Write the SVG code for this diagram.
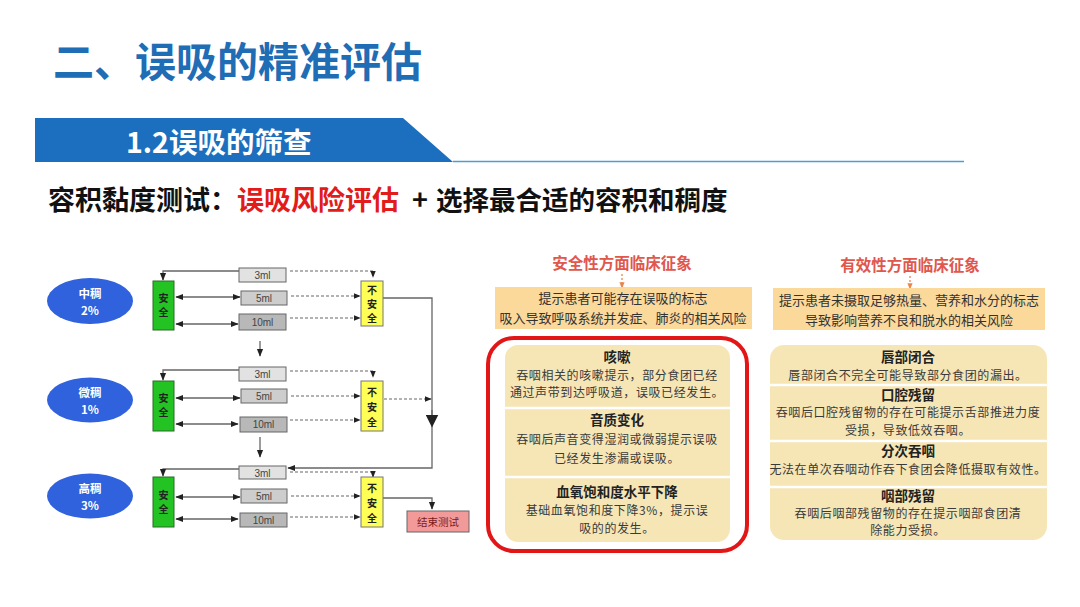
<svg xmlns="http://www.w3.org/2000/svg" width="1080" height="607" viewBox="0 0 1080 607">
<style>
text{font-family:"Noto Sans CJK SC","Noto Sans",sans-serif;}
.ml{fill:#444;font-size:10px;text-anchor:middle;font-family:"Liberation Sans","Noto Sans CJK SC",sans-serif;}
.b3{fill:#e2e2e2;stroke:#666;stroke-width:1;}
.b5{fill:#cdcdcd;stroke:#666;stroke-width:1;}
.b10{fill:#b8b8b8;stroke:#666;stroke-width:1;}
.safe{fill:#22c322;stroke:#2a6a2a;stroke-width:1;}
.unsafe{fill:#ffff55;stroke:#777;stroke-width:1;}
.vt{font-size:10px;font-weight:bold;text-anchor:middle;fill:#222;}
.ell{fill:#2f62dc;}
.et{fill:#fff;font-size:11.5px;font-weight:bold;text-anchor:middle;}
.sl{fill:none;stroke:#666;stroke-width:1.3;}
.dl{fill:none;stroke:#666;stroke-width:1.2;stroke-dasharray:3 2;}
.ttl{fill:#e0574c;font-size:15.5px;font-weight:bold;text-anchor:middle;}
.up{fill:#fbd99b;}
.upt{fill:#333;font-size:13px;text-anchor:middle;}
.low{fill:#f6e6b6;}
.lh{fill:#222;font-size:13.5px;font-weight:bold;text-anchor:middle;}
.lt{fill:#3a3a3a;font-size:12px;letter-spacing:0.6px;text-anchor:middle;}
</style>
<defs>
<marker id="ah" viewBox="0 0 10 10" refX="9" refY="5" markerWidth="6" markerHeight="6" orient="auto-start-reverse"><path d="M0,1 L10,5 L0,9 z" fill="#222"/></marker>
<marker id="ahb" viewBox="0 0 10 10" refX="5" refY="5" markerWidth="10" markerHeight="10" orient="auto"><path d="M0,0 L10,5 L0,10 z" fill="#222"/></marker>
<marker id="aho" viewBox="0 0 10 10" refX="9" refY="5" markerWidth="5" markerHeight="5" orient="auto"><path d="M0,1 L10,5 L0,9 z" fill="#e8874a"/></marker>
</defs>
<rect width="1080" height="607" fill="#fff"/>

<g id="header">
<text x="53" y="77" font-size="41" font-weight="bold" fill="#1e6db5">二、误吸的精准评估</text>
<polygon points="35,118 403,118 453,162 35,162" fill="#1b6fbe"/>
<line x1="453" y1="161.5" x2="964" y2="161.5" stroke="#4a9fd0" stroke-width="1.5"/>
<text x="126" y="153" font-size="28.5" font-weight="bold" fill="#fff">1.2误吸的筛查</text>
<text y="210" font-size="27" font-weight="bold" fill="#111"><tspan x="48">容积黏度测试：</tspan><tspan x="237" fill="#e21b1b">误吸风险评估</tspan><tspan x="412">+</tspan><tspan x="436" font-size="26.5">选择最合适的容积和稠度</tspan></text>
</g>

<g id="connectors">
<!-- group 1 -->
<path class="sl" d="M239,271 H163 V280" marker-end="url(#ah)"/>
<line class="sl" x1="176" y1="297" x2="240" y2="297" marker-start="url(#ah)" marker-end="url(#ah)"/>
<line class="sl" x1="176" y1="324" x2="238" y2="324" marker-start="url(#ah)" marker-end="url(#ah)"/>
<path class="dl" d="M290,271 H373 V277" marker-end="url(#ah)"/>
<line class="dl" x1="291" y1="296" x2="360" y2="296" marker-end="url(#ah)"/>
<line class="dl" x1="290" y1="318" x2="360" y2="318" marker-end="url(#ah)"/>
<line class="sl" x1="260" y1="341" x2="260" y2="356" marker-end="url(#ah)"/>
<path class="sl" d="M383,298 H432 V468 H288" marker-end="url(#ah)"/>
<line class="sl" x1="432" y1="410" x2="432" y2="421" marker-end="url(#ahb)"/>
<!-- group 2 -->
<path class="sl" d="M239,370 H163 V380" marker-end="url(#ah)"/>
<line class="sl" x1="176" y1="398" x2="240" y2="398" marker-start="url(#ah)" marker-end="url(#ah)"/>
<line class="sl" x1="176" y1="424" x2="238" y2="424" marker-start="url(#ah)" marker-end="url(#ah)"/>
<path class="dl" d="M290,371 H373 V377" marker-end="url(#ah)"/>
<line class="dl" x1="291" y1="396" x2="360" y2="396" marker-end="url(#ah)"/>
<line class="dl" x1="290" y1="420" x2="360" y2="420" marker-end="url(#ah)"/>
<line class="dl" x1="384" y1="399" x2="431" y2="399" marker-end="url(#ah)"/>
<line class="sl" x1="260" y1="437" x2="260" y2="457" marker-end="url(#ah)"/>
<!-- group 3 -->
<path class="sl" d="M239,469 H163 V476" marker-end="url(#ah)"/>
<line class="sl" x1="176" y1="497" x2="240" y2="497" marker-start="url(#ah)" marker-end="url(#ah)"/>
<line class="sl" x1="176" y1="519" x2="238" y2="519" marker-start="url(#ah)" marker-end="url(#ah)"/>
<path class="dl" d="M290,472 H373 V477" marker-end="url(#ah)"/>
<line class="dl" x1="291" y1="496" x2="360" y2="496" marker-end="url(#ah)"/>
<line class="dl" x1="290" y1="517" x2="360" y2="517" marker-end="url(#ah)"/>
<path class="sl" d="M383,498 H432 V509" marker-end="url(#ah)"/>
<!-- right panels -->
<line x1="622" y1="274" x2="622" y2="288" stroke="#e8874a" stroke-width="1.3" stroke-dasharray="2 2" marker-end="url(#aho)"/>
<line x1="910" y1="276" x2="910" y2="289" stroke="#e8874a" stroke-width="1.3" stroke-dasharray="2 2" marker-end="url(#aho)"/>
</g>

<g id="ell1"><ellipse class="ell" cx="90" cy="301" rx="43" ry="23"/><text class="et" x="90" y="298">中稠</text><text class="et" x="90" y="315">2%</text></g>
<g id="ell2"><ellipse class="ell" cx="90" cy="400" rx="43" ry="22.5"/><text class="et" x="90" y="397">微稠</text><text class="et" x="90" y="414">1%</text></g>
<g id="ell3"><ellipse class="ell" cx="90" cy="496" rx="43" ry="22.5"/><text class="et" x="90" y="493">高稠</text><text class="et" x="90" y="510">3%</text></g>

<g id="safe1"><rect class="safe" x="153" y="281" width="21" height="49"/><text class="vt" x="163.5" y="302">安</text><text class="vt" x="163.5" y="316">全</text></g>
<g id="safe2"><rect class="safe" x="153" y="381" width="21" height="50"/><text class="vt" x="163.5" y="402">安</text><text class="vt" x="163.5" y="416">全</text></g>
<g id="safe3"><rect class="safe" x="153" y="477" width="21" height="50"/><text class="vt" x="163.5" y="499">安</text><text class="vt" x="163.5" y="513">全</text></g>

<g id="g1-3ml"><rect class="b3" x="239" y="268" width="47" height="14"/><text class="ml" x="262.5" y="279">3ml</text></g>
<g id="g1-5ml"><rect class="b5" x="241" y="291" width="46" height="14"/><text class="ml" x="264" y="302">5ml</text></g>
<g id="g1-10ml"><rect class="b10" x="239" y="314" width="47" height="16"/><text class="ml" x="262.5" y="326">10ml</text></g>
<g id="g2-3ml"><rect class="b3" x="239" y="367" width="47" height="14"/><text class="ml" x="262.5" y="378">3ml</text></g>
<g id="g2-5ml"><rect class="b5" x="241" y="389" width="46" height="14"/><text class="ml" x="264" y="400">5ml</text></g>
<g id="g2-10ml"><rect class="b10" x="240" y="417" width="47" height="15"/><text class="ml" x="263.5" y="428">10ml</text></g>
<g id="g3-3ml"><rect class="b3" x="239" y="466" width="47" height="13"/><text class="ml" x="262.5" y="476.5">3ml</text></g>
<g id="g3-5ml"><rect class="b5" x="241" y="489" width="46" height="14"/><text class="ml" x="264" y="500">5ml</text></g>
<g id="g3-10ml"><rect class="b10" x="240" y="513" width="47" height="14"/><text class="ml" x="263.5" y="524">10ml</text></g>

<g id="unsafe1"><rect class="unsafe" x="361" y="281" width="22" height="45"/><text class="vt" x="372" y="294">不</text><text class="vt" x="372" y="308">安</text><text class="vt" x="372" y="322">全</text></g>
<g id="unsafe2"><rect class="unsafe" x="361" y="381" width="22" height="50"/><text class="vt" x="372" y="396">不</text><text class="vt" x="372" y="411">安</text><text class="vt" x="372" y="426">全</text></g>
<g id="unsafe3"><rect class="unsafe" x="361" y="477" width="22" height="50"/><text class="vt" x="372" y="492">不</text><text class="vt" x="372" y="507">安</text><text class="vt" x="372" y="522">全</text></g>

<g id="end"><rect x="407" y="511" width="62" height="21" fill="#f29a9a" stroke="#666" stroke-width="1"/><text x="438" y="525.5" font-size="10.5" text-anchor="middle" fill="#7a1a1a">结束测试</text></g>

<g id="safety-title"><text class="ttl" x="622" y="269">安全性方面临床征象</text></g>
<g id="safety-box"><rect class="up" x="495" y="287" width="257" height="42"/><text class="upt" x="623" y="303">提示患者可能存在误吸的标志</text><text class="upt" x="623" y="323">吸入导致呼吸系统并发症、肺炎的相关风险</text></g>
<g id="effect-title"><text class="ttl" x="910" y="271">有效性方面临床征象</text></g>
<g id="effect-box"><rect class="up" x="773" y="288" width="272" height="42"/><text class="upt" x="909" y="304.5">提示患者未摄取足够热量、营养和水分的标志</text><text class="upt" x="909" y="324.5">导致影响营养不良和脱水的相关风险</text></g>

<g id="safety-signs">
<rect x="488" y="338" width="259" height="213" rx="26" fill="none" stroke="#e21616" stroke-width="4"/>
<rect class="low" x="505" y="345" width="225" height="197" rx="13"/>
<line x1="505" y1="408" x2="730" y2="408" stroke="#fff" stroke-width="2.5"/>
<line x1="505" y1="477" x2="730" y2="477" stroke="#fff" stroke-width="2.5"/>
<text class="lh" x="617" y="362">咳嗽</text>
<text class="lt" x="617" y="380">吞咽相关的咳嗽提示，部分食团已经</text>
<text class="lt" x="617" y="397">通过声带到达呼吸道，误吸已经发生。</text>
<text class="lh" x="617" y="425">音质变化</text>
<text class="lt" x="617" y="444">吞咽后声音变得湿润或微弱提示误吸</text>
<text class="lt" x="617" y="463">已经发生渗漏或误吸。</text>
<text class="lh" x="617" y="497">血氧饱和度水平下降</text>
<text class="lt" x="617" y="515">基础血氧饱和度下降3%，提示误</text>
<text class="lt" x="617" y="533">吸的的发生。</text>
</g>

<g id="effect-signs">
<rect class="low" x="770" y="345" width="277" height="195" rx="14"/>
<line x1="770" y1="385" x2="1047" y2="385" stroke="#fff" stroke-width="2.5"/>
<line x1="770" y1="441" x2="1047" y2="441" stroke="#fff" stroke-width="2.5"/>
<line x1="770" y1="487" x2="1047" y2="487" stroke="#fff" stroke-width="2.5"/>
<text class="lh" x="908" y="362">唇部闭合</text>
<text class="lt" x="908" y="380">唇部闭合不完全可能导致部分食团的漏出。</text>
<text class="lh" x="908" y="400">口腔残留</text>
<text class="lt" x="908" y="417">吞咽后口腔残留物的存在可能提示舌部推进力度</text>
<text class="lt" x="908" y="435">受损，导致低效吞咽。</text>
<text class="lh" x="908" y="456">分次吞咽</text>
<text class="lt" x="908" y="474">无法在单次吞咽动作吞下食团会降低摄取有效性。</text>
<text class="lh" x="908" y="501">咽部残留</text>
<text class="lt" x="908" y="518">吞咽后咽部残留物的存在提示咽部食团清</text>
<text class="lt" x="908" y="535">除能力受损。</text>
</g>
</svg>
